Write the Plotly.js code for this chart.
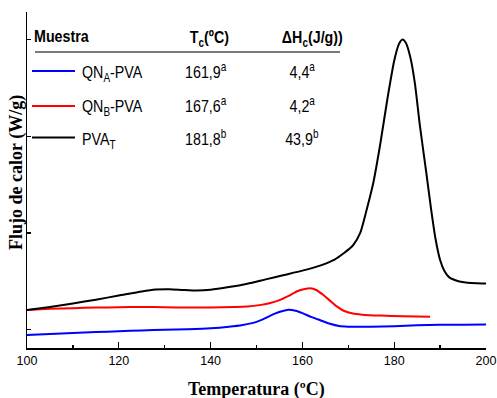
<!DOCTYPE html>
<html>
<head>
<meta charset="utf-8">
<script src="https://cdn.plot.ly/plotly-3.0.1.min.js"></script>
<style>
  html, body { margin: 0; padding: 0; background: #fff; }
  #chart { width: 497px; height: 398px; }
</style>
</head>
<body>
<div id="chart"></div>
<script>
// DSC cooling curves: heat flow vs temperature
const tempPVA = [100, 105, 110, 115, 120, 125, 128, 131, 134, 137, 140, 144, 148, 152, 156, 160, 164, 167, 169, 171, 172.6, 174, 175.5, 177, 178.5, 180, 181, 181.8, 182.5, 183.5, 184.5, 185.6, 187, 188, 189, 190, 191, 192, 194, 196, 198, 200];
const flowPVA = [0.204, 0.235, 0.27, 0.31, 0.352, 0.395, 0.414, 0.418, 0.41, 0.404, 0.412, 0.44, 0.475, 0.52, 0.565, 0.61, 0.665, 0.725, 0.79, 0.87, 1.0, 1.24, 1.53, 1.93, 2.38, 2.78, 2.95, 3.0, 2.97, 2.82, 2.55, 2.11, 1.62, 1.26, 0.94, 0.72, 0.6, 0.54, 0.5, 0.485, 0.48, 0.478];

const tempQNB = [100, 105, 110, 115, 120, 125, 130, 135, 140, 145, 148, 151, 153, 155, 157, 159, 160.5, 161.7, 163, 164.5, 166, 167.5, 169, 171, 173, 177, 182, 187.8];
const flowQNB = [0.204, 0.215, 0.222, 0.228, 0.232, 0.235, 0.231, 0.228, 0.229, 0.233, 0.238, 0.256, 0.275, 0.305, 0.35, 0.40, 0.42, 0.428, 0.41, 0.36, 0.30, 0.24, 0.195, 0.166, 0.155, 0.145, 0.138, 0.132];

const tempQNA = [100, 105, 110, 115, 120, 125, 130, 135, 140, 144, 147, 150, 152, 154, 155.5, 157, 158.5, 160, 162, 164, 166, 168, 170, 175, 180, 185, 190, 195, 200];
const flowQNA = [-0.055, -0.045, -0.035, -0.025, -0.017, -0.008, 0.0, 0.004, 0.013, 0.03, 0.049, 0.08, 0.12, 0.165, 0.19, 0.205, 0.195, 0.17, 0.13, 0.095, 0.06, 0.037, 0.031, 0.03, 0.035, 0.045, 0.05, 0.051, 0.052];

// Table rows: sample name (HTML), Tc, ΔHc
const sampleNames = ['QN<sub>A</sub>-PVA', 'QN<sub>B</sub>-PVA', 'PVA<sub>T</sub>'];
const tcValues = ['161,9<sup>a</sup>', '167,6<sup>a</sup>', '181,8<sup>b</sup>'];
const dhValues = ['4,4<sup>a</sup>', '4,2<sup>a</sup>', '43,9<sup>b</sup>'];
const sampleColors = ['#0000ff', '#ff0000', '#000000'];

// Plot area in pixels
const W = 497, H = 398;
const M = { l: 27, r: 11, t: 12, b: 50 };
const plotW = W - M.l - M.r, plotH = H - M.t - M.b;
const PX = v => (v - M.l) / plotW;
const PY = v => (H - M.b - v) / plotH;

const tableFont = { family: '"Liberation Sans", Arial, sans-serif', size: 17, color: '#000' };
const serifBold = { family: '"Liberation Serif", "Times New Roman", serif', size: 18, color: '#000' };
const NARROW = 0.84; // horizontal squeeze for the table text (narrow face)

const traces = [
  { x: tempQNA, y: flowQNA, mode: 'lines', line: { color: sampleColors[0], width: 2, shape: 'spline', smoothing: 0.6 }, hoverinfo: 'skip' },
  { x: tempQNB, y: flowQNB, mode: 'lines', line: { color: sampleColors[1], width: 2, shape: 'spline', smoothing: 0.6 }, hoverinfo: 'skip' },
  { x: tempPVA, y: flowPVA, mode: 'lines', line: { color: sampleColors[2], width: 2, shape: 'spline', smoothing: 0.6 }, hoverinfo: 'skip' }
];

const rowY = [72, 106, 139];
const lineY = [71, 106, 137.5];

const annotations = [
  { text: '<b>Muestra</b>', x: PX(32), y: PY(36.5), xanchor: 'left', yanchor: 'middle' },
  { text: '<b>T<sub>c</sub>(ºC)</b>', x: PX(209), y: PY(39), xanchor: 'center', yanchor: 'middle' },
  { text: '<b>ΔH<sub>c</sub>(J/g))</b>', x: PX(312.5), y: PY(39), xanchor: 'center', yanchor: 'middle' }
];
sampleNames.forEach((name, i) => {
  annotations.push({ text: name, x: PX(80), y: PY(rowY[i] + 2), xanchor: 'left', yanchor: 'middle' });
  annotations.push({ text: tcValues[i], x: PX(183), y: PY(rowY[i] - 1), xanchor: 'left', yanchor: 'middle' });
  annotations.push({ text: dhValues[i], x: PX(302), y: PY(rowY[i] - 1), xanchor: 'center', yanchor: 'middle' });
});
annotations.forEach(a => { a.xref = 'paper'; a.yref = 'paper'; a.showarrow = false; a.font = tableFont; });
const nTable = annotations.length;

// Axis titles
annotations.push({ text: '<b>Temperatura (ºC)</b>', xref: 'paper', yref: 'paper', x: 0.5, y: PY(389), xanchor: 'center', yanchor: 'middle', showarrow: false, font: serifBold });
annotations.push({ text: '<b>Flujo de calor (W/g)</b>', xref: 'paper', yref: 'paper', x: PX(16.5), y: PY(172.5), xanchor: 'center', yanchor: 'middle', textangle: -90, showarrow: false, font: serifBold });

const shapes = [
  { type: 'line', xref: 'paper', yref: 'paper', x0: PX(35), x1: PX(340), y0: PY(52), y1: PY(52), line: { color: '#7a7a7a', width: 2 } }
];
lineY.forEach((ly, i) => {
  shapes.push({ type: 'line', xref: 'paper', yref: 'paper', x0: PX(32), x1: PX(75), y0: PY(ly), y1: PY(ly), line: { color: sampleColors[i], width: 2 } });
});

const layout = {
  width: W, height: H,
  margin: M,
  showlegend: false,
  paper_bgcolor: '#fff', plot_bgcolor: '#fff',
  xaxis: {
    range: [100, 200], tick0: 100, dtick: 20,
    ticks: 'inside', ticklen: 6, tickwidth: 1.3, tickcolor: '#000',
    minor: { dtick: 10, ticks: 'inside', ticklen: 3, tickwidth: 1.3, tickcolor: '#000' },
    showline: true, linecolor: '#000', linewidth: 1.5,
    showgrid: false, zeroline: false,
    tickfont: { family: '"Liberation Sans", Arial, sans-serif', size: 12.5, color: '#000' }
  },
  yaxis: {
    range: [-0.19, 3.285], tick0: 0, dtick: 1,
    ticks: 'inside', ticklen: 4, tickwidth: 1.3, tickcolor: '#000',
    showticklabels: false,
    showline: true, linecolor: '#000', linewidth: 1.5,
    showgrid: false, zeroline: false
  },
  annotations: annotations,
  shapes: shapes
};

Plotly.newPlot('chart', traces, layout, { staticPlot: true, displayModeBar: false }).then(gd => {
  // squeeze the table text horizontally around its anchor
  gd.querySelectorAll('g.annotation').forEach(g => {
    const idx = +g.getAttribute('data-index');
    if (idx >= nTable) return;
    const t = g.querySelector('text.annotation-text');
    if (!t) return;
    t.style.transformBox = 'fill-box';
    t.style.transformOrigin = annotations[idx].xanchor === 'left' ? 'left center' : 'center center';
    t.style.transform = 'scaleX(' + NARROW + ')';
  });
});
</script>
</body>
</html>
